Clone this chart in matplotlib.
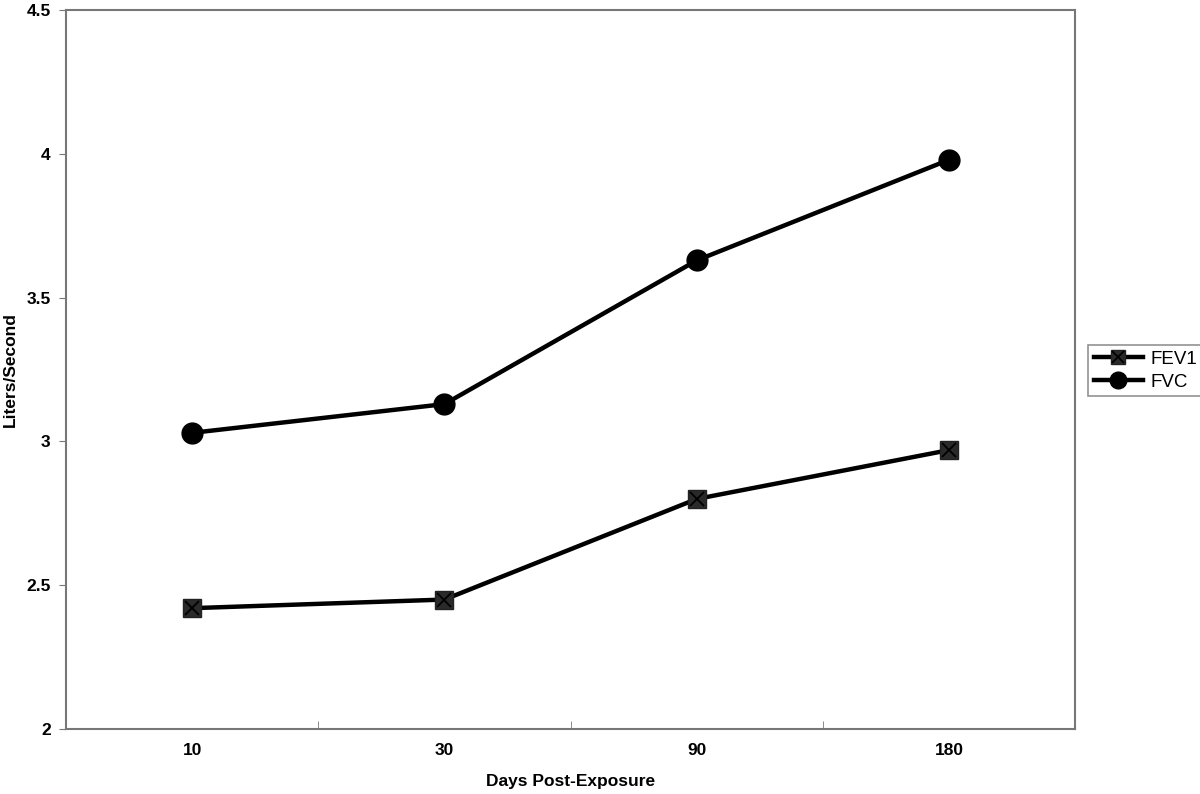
import matplotlib
matplotlib.use("Agg")
import matplotlib.pyplot as plt

days = ['10', '30', '90', '180']
fev1 = [2.42, 2.45, 2.80, 2.97]
fvc = [3.03, 3.13, 3.63, 3.98]

plt.rcParams['font.family'] = ['Liberation Sans', 'DejaVu Sans']

fig = plt.figure(figsize=(12, 7.94), dpi=100)
ax = fig.add_axes([0.055, 0.082, 0.841, 0.905])

x = list(range(len(days)))
l1, = ax.plot(x, fev1, c='k', lw=3.2, marker='s', markersize=12.5,
              markerfacecolor='#2a2a2a', markeredgecolor='#222222', zorder=3)
l1x, = ax.plot(x, fev1, ls='none', marker='x', markersize=10, markeredgewidth=1.3,
               markeredgecolor='k', zorder=4)
l2, = ax.plot(x, fvc, c='k', lw=3.2, marker='o', markersize=15, zorder=3)

ax.set_xlim(-0.5, 3.5)
ax.set_ylim(2, 4.5)
ax.set_yticks([2, 2.5, 3, 3.5, 4, 4.5])
ax.set_yticklabels(['2', '2.5', '3', '3.5', '4', '4.5'])
ax.set_xticks(x)
ax.set_xticklabels(days)
ax.set_xticks([-0.5, 0.5, 1.5, 2.5, 3.5], minor=True)
ax.tick_params(axis='x', which='major', length=0, pad=10)
ax.tick_params(axis='x', which='minor', length=6, color='#777777', direction='in')
ax.tick_params(axis='y', length=5, color='#777777', pad=6)
for lab in ax.get_xticklabels() + ax.get_yticklabels():
    lab.set_fontweight('bold')
    lab.set_fontsize(12.5)
for s in ax.spines.values():
    s.set_color('#777777')
    s.set_linewidth(1.5)

ax.set_xlabel('Days Post-Exposure', fontsize=12.5, fontweight='bold', labelpad=12)
ax.set_ylabel('Liters/Second', fontsize=12.5, fontweight='bold', labelpad=6)

leg = fig.legend([(l1, l1x), l2], ['FEV1', 'FVC'], loc='center left',
                 bbox_to_anchor=(0.907, 0.533), fontsize=13.5, frameon=True,
                 fancybox=False, edgecolor='#777777', handlelength=2.6,
                 borderpad=0.3, labelspacing=0.3, handletextpad=0.4,
                 borderaxespad=0, markerscale=0.8)
leg.get_frame().set_linewidth(1.2)

plt.savefig('out.png', dpi=100)
